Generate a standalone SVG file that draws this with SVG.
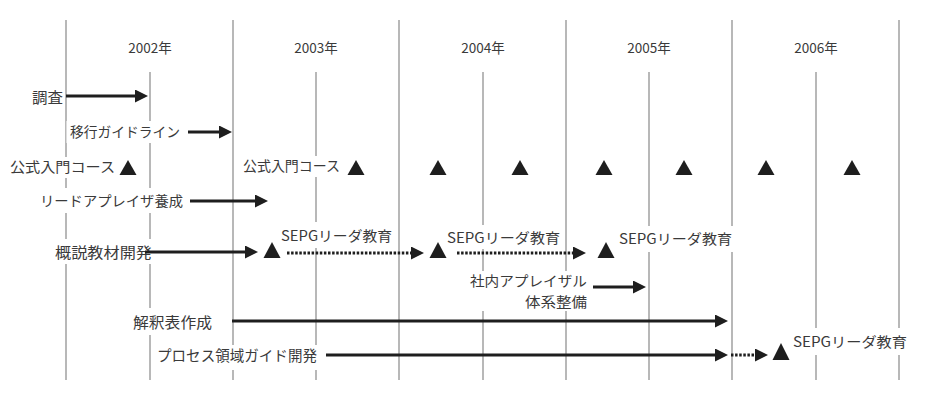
<svg xmlns="http://www.w3.org/2000/svg" width="943" height="400" viewBox="0 0 943 400">
  <defs>
    <style>
      .major { stroke: #9a9a9a; stroke-width: 1.4; }
      .minor { stroke: #9a9a9a; stroke-width: 1.4; }
      .bg { fill: #ffffff; }
      .lbl { font-family: "Noto Sans CJK JP", "Noto Sans", "Liberation Sans", sans-serif; fill: #3a3a3a; }
      .yr { font-family: "Noto Sans CJK JP", "Noto Sans", "Liberation Sans", sans-serif; fill: #3a3a3a; font-size: 13.5px; }
      .arr { stroke: #1e1e1e; stroke-width: 3; fill: none; marker-end: url(#ah); }
      .dot { stroke: #1e1e1e; stroke-width: 3; fill: none; stroke-dasharray: 2.5 1.6; marker-end: url(#ah); }
      .tri { fill: #1e1e1e; }
    </style>
    <marker id="ah" markerUnits="userSpaceOnUse" markerWidth="14" markerHeight="14" refX="5" refY="6.5" orient="auto">
      <path d="M0,0 L13,6.5 L0,13 Z" fill="#1e1e1e"/>
    </marker>
  </defs>
  <rect x="0" y="0" width="943" height="400" fill="#ffffff"/>

  <g id="grid">
    <line class="major" x1="66" y1="20" x2="66" y2="380"/>
    <line class="major" x1="233" y1="20" x2="233" y2="380"/>
    <line class="major" x1="399" y1="20" x2="399" y2="380"/>
    <line class="major" x1="566" y1="20" x2="566" y2="380"/>
    <line class="major" x1="732" y1="20" x2="732" y2="380"/>
    <line class="major" x1="899" y1="20" x2="899" y2="380"/>
    <line class="minor" x1="150" y1="72" x2="150" y2="380"/>
    <line class="minor" x1="316" y1="72" x2="316" y2="380"/>
    <line class="minor" x1="483" y1="72" x2="483" y2="380"/>
    <line class="minor" x1="649" y1="72" x2="649" y2="380"/>
    <line class="minor" x1="816" y1="72" x2="816" y2="380"/>
  </g>

  <g id="years">
    <text class="yr" x="150" y="52.5" text-anchor="middle">2002年</text>
    <text class="yr" x="316" y="52.5" text-anchor="middle">2003年</text>
    <text class="yr" x="483" y="52.5" text-anchor="middle">2004年</text>
    <text class="yr" x="649" y="52.5" text-anchor="middle">2005年</text>
    <text class="yr" x="816" y="52.5" text-anchor="middle">2006年</text>
  </g>

  <g id="backgrounds">
    <rect class="bg" x="30" y="86" width="34" height="22"/>
    <rect class="bg" x="66.5" y="121" width="117" height="22"/>
    <rect class="bg" x="7" y="157" width="111" height="21"/>
    <rect class="bg" x="240" y="156" width="103" height="21"/>
    <rect class="bg" x="37" y="188" width="149" height="25"/>
    <rect class="bg" x="277" y="222" width="119" height="26"/>
    <rect class="bg" x="443" y="225" width="121" height="24"/>
    <rect class="bg" x="615" y="226" width="120" height="26"/>
    <rect class="bg" x="789" y="328" width="122" height="27"/>
    <rect class="bg" x="52" y="239" width="103" height="25"/>
    <rect class="bg" x="466" y="271" width="124" height="40"/>
    <rect class="bg" x="129" y="308" width="87" height="27"/>
    <rect class="bg" x="153" y="345" width="168" height="25"/>
  </g>

  <g id="n-chousa"><text class="lbl" x="32" y="102.5" font-size="15" textLength="31" lengthAdjust="spacingAndGlyphs">調査</text></g>
  <g id="n-ikou"><text class="lbl" x="70" y="137" font-size="14" textLength="110" lengthAdjust="spacingAndGlyphs">移行ガイドライン</text></g>
  <g id="n-koushiki1"><text class="lbl" x="10" y="172" font-size="14" textLength="105" lengthAdjust="spacingAndGlyphs">公式入門コース</text></g>
  <g id="n-koushiki2"><text class="lbl" x="243" y="171" font-size="14" textLength="97" lengthAdjust="spacingAndGlyphs">公式入門コース</text></g>
  <g id="n-lead"><text class="lbl" x="40" y="206" font-size="14" textLength="143" lengthAdjust="spacingAndGlyphs">リードアプレイザ養成</text></g>
  <g id="n-sepg1"><text class="lbl" x="281" y="241" font-size="14" textLength="111" lengthAdjust="spacingAndGlyphs">SEPGリーダ教育</text></g>
  <g id="n-sepg2"><text class="lbl" x="447" y="243" font-size="14" textLength="113" lengthAdjust="spacingAndGlyphs">SEPGリーダ教育</text></g>
  <g id="n-sepg3"><text class="lbl" x="619" y="244" font-size="14" textLength="113" lengthAdjust="spacingAndGlyphs">SEPGリーダ教育</text></g>
  <g id="n-sepg4"><text class="lbl" x="793" y="347" font-size="14" textLength="114" lengthAdjust="spacingAndGlyphs">SEPGリーダ教育</text></g>
  <g id="n-gaisetsu"><text class="lbl" x="55" y="257.5" font-size="15" textLength="97" lengthAdjust="spacingAndGlyphs">概説教材開発</text></g>
  <g id="n-shanai">
    <text class="lbl" x="470" y="286" font-size="14" textLength="117" lengthAdjust="spacingAndGlyphs">社内アプレイザル</text>
    <text class="lbl" x="525" y="307" font-size="14" textLength="62" lengthAdjust="spacingAndGlyphs">体系整備</text>
  </g>
  <g id="n-kaishaku"><text class="lbl" x="133" y="327.5" font-size="15" textLength="79" lengthAdjust="spacingAndGlyphs">解釈表作成</text></g>
  <g id="n-process"><text class="lbl" x="157" y="361" font-size="14.5" textLength="160" lengthAdjust="spacingAndGlyphs">プロセス領域ガイド開発</text></g>

  <g id="milestones">
    <polygon class="tri" points="128,160 136.5,175 119.5,175"/>
    <polygon class="tri" points="356,160 364.5,175 347.5,175"/>
    <polygon class="tri" points="438,160 446.5,175 429.5,175"/>
    <polygon class="tri" points="520,160 528.5,175 511.5,175"/>
    <polygon class="tri" points="604,160 612.5,175 595.5,175"/>
    <polygon class="tri" points="684,160 692.5,175 675.5,175"/>
    <polygon class="tri" points="766,160 774.5,175 757.5,175"/>
    <polygon class="tri" points="852,160 860.5,175 843.5,175"/>
    <polygon class="tri" points="272,242 280.5,258 263.5,258"/>
    <polygon class="tri" points="438,242 446.5,258 429.5,258"/>
    <polygon class="tri" points="606,242 614.5,258 597.5,258"/>
    <polygon class="tri" points="781,343 789.5,360 772.5,360"/>
  </g>

  <g id="connectors">
    <line class="arr" x1="66" y1="96" x2="140" y2="96"/>
    <line class="arr" x1="188" y1="132" x2="224" y2="132"/>
    <line class="arr" x1="190" y1="201" x2="260" y2="201"/>
    <line class="arr" x1="145" y1="252" x2="250" y2="252"/>
    <line class="arr" x1="593" y1="287" x2="638" y2="287"/>
    <line class="arr" x1="232" y1="321" x2="720" y2="321"/>
    <line class="arr" x1="326" y1="355" x2="720" y2="355"/>
    <line class="dot" x1="287" y1="253" x2="416" y2="253"/>
    <line class="dot" x1="457" y1="253" x2="578" y2="253"/>
    <line class="dot" x1="731" y1="355" x2="760" y2="355"/>
  </g>
</svg>
